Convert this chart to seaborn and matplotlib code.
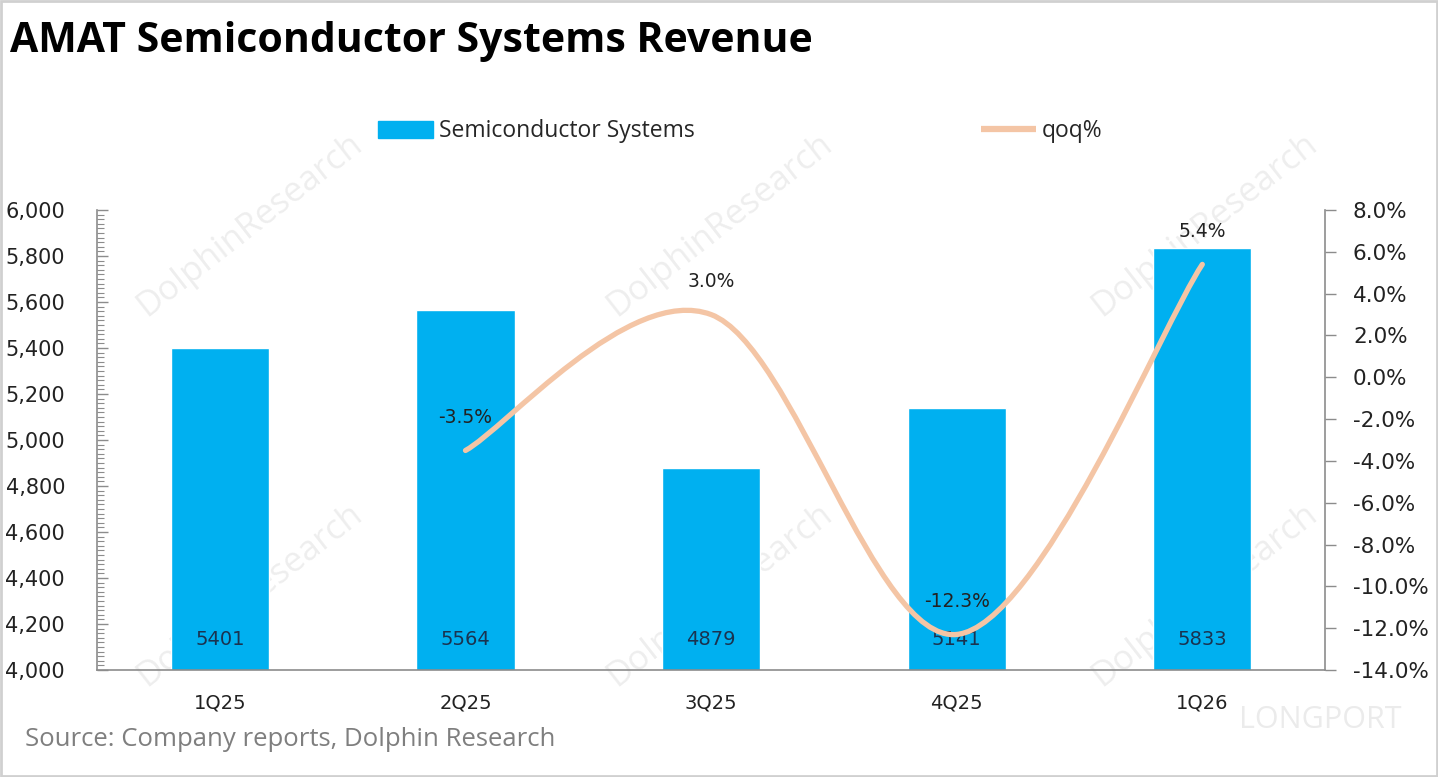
import numpy as np
import pandas as pd
import seaborn as sns
import matplotlib.pyplot as plt
from matplotlib.path import Path
from matplotlib.patches import PathPatch, Patch, Rectangle
from matplotlib.lines import Line2D
from matplotlib.ticker import FuncFormatter, MultipleLocator

quarters = ["1Q25", "2Q25", "3Q25", "4Q25", "1Q26"]
revenue = [5401, 5564, 4879, 5141, 5833]
qoq_quarters = ["2Q25", "3Q25", "4Q25", "1Q26"]
qoq = [-3.5, 3.0, -12.3, 5.4]

BAR = "#00B0F0"
LINE = "#F4C5A5"
GRAY = "#8C8C8C"

sns.set_style("white")
plt.rcParams["font.family"] = ["DejaVu Sans"]

fig = plt.figure(figsize=(14.38, 7.77), dpi=100)
ax = fig.add_axes([0.0675, 0.1377, 0.854, 0.592])

# watermarks, behind everything
for wx, wy in [(250, 225), (720, 225), (1205, 225), (250, 595), (720, 595), (1205, 595)]:
    fig.text(wx / 1438, 1 - wy / 777, "DolphinResearch", rotation=38, fontsize=25,
             color="#000000", alpha=0.07, ha="center", va="center", family="Open Sans", zorder=-1)
fig.text(1320 / 1438, 1 - 720 / 777, "LONGPORT", fontsize=22, color="#000000", alpha=0.08,
         ha="center", va="center", family="Open Sans", zorder=-1)

df = pd.DataFrame({"quarter": quarters, "revenue": revenue})
sns.barplot(data=df, x="quarter", y="revenue", color=BAR, saturation=1, width=0.4, ax=ax, zorder=2)
ax.patch.set_alpha(0)
ax.set_ylim(4000, 6000)
ax.set_xlim(-0.5, 4.5)
ax.yaxis.set_major_locator(MultipleLocator(200))
ax.yaxis.set_minor_locator(MultipleLocator(20))
ax.yaxis.set_major_formatter(FuncFormatter(lambda v, p: f"{v:,.0f}"))
ax.set_xlabel("")
ax.set_ylabel("")
ax.tick_params(axis="y", which="major", direction="in", length=8, width=1, color=GRAY,
               pad=23, labelsize=15, labelcolor="#222222", left=True)
ax.tick_params(axis="y", which="minor", direction="in", length=5, width=0.8, color=GRAY, left=True)
ax.tick_params(axis="x", length=0, pad=17, labelsize=14, labelcolor="#222222")
for s in ["top", "right"]:
    ax.spines[s].set_visible(False)
for s in ["left", "bottom"]:
    ax.spines[s].set_color(GRAY)
    ax.spines[s].set_linewidth(1.2)

for i, v in enumerate(revenue):
    ax.annotate(str(v), xy=(i, 4000), xytext=(0, 22), textcoords="offset points",
                ha="center", va="center", fontsize=14, color="#1A3350", zorder=5)

ax2 = ax.twinx()
ax2.set_ylim(-14, 8)
ax2.yaxis.set_major_locator(MultipleLocator(2))
ax2.yaxis.set_major_formatter(FuncFormatter(lambda v, p: f"{v:.1f}%"))
ax2.tick_params(axis="y", direction="out", length=8, width=1, color=GRAY, pad=12,
                labelsize=15.5, labelcolor="#222222", right=True)
for s in ["top", "left", "bottom"]:
    ax2.spines[s].set_visible(False)
ax2.spines["right"].set_color(GRAY)
ax2.spines["right"].set_linewidth(1.2)

# smoothed line (Bezier through the points, like Excel's smoothed line)
xs = [quarters.index(q) for q in qoq_quarters]
pts = list(zip(xs, qoq))
verts = [pts[0]]
codes = [Path.MOVETO]
n = len(pts)
for k in range(n - 1):
    p0 = pts[max(k - 1, 0)]
    p1 = pts[k]
    p2 = pts[k + 1]
    p3 = pts[min(k + 2, n - 1)]
    c1 = (p1[0] + (p2[0] - p0[0]) / 6, p1[1] + (p2[1] - p0[1]) / 6)
    c2 = (p2[0] - (p3[0] - p1[0]) / 6, p2[1] - (p3[1] - p1[1]) / 6)
    verts += [c1, c2, p2]
    codes += [Path.CURVE4] * 3
ax2.add_patch(PathPatch(Path(verts, codes), facecolor="none", edgecolor=LINE,
                        lw=3.8, capstyle="round", zorder=4))

for x, v in zip(xs, qoq):
    ax2.annotate(f"{v:.1f}%", xy=(x, v), xytext=(0, 24), textcoords="offset points",
                 ha="center", va="center", fontsize=13.5, color="#222222", zorder=6)

handles = [Patch(facecolor=BAR, edgecolor=BAR), Line2D([], [], color=LINE, lw=4.5, solid_capstyle="butt")]
fig.legend(handles, ["Semiconductor Systems", "qoq%"], ncol=2, loc="center",
           bbox_to_anchor=(0.515, 0.831), frameon=False,
           handlelength=2.4, handleheight=0.75, handletextpad=0.25, columnspacing=12.5,
           prop={"family": "Open Sans", "size": 16.5})

fig.text(10 / 1438, 1 - 42 / 777, "AMAT Semiconductor Systems Revenue", fontsize=29.5,
         fontweight="bold", family="Open Sans", ha="left", va="center", color="#000000")
fig.text(25 / 1438, 1 - 740 / 777, "Source: Company reports, Dolphin Research", fontsize=18.5,
         family="Open Sans", ha="left", va="center", color="#7F7F7F")

fig.patches.append(Rectangle((0.001, 0.001), 0.998, 0.998, transform=fig.transFigure,
                             fill=False, edgecolor="#D0D0D0", lw=2))

fig.savefig("out.png", dpi=100)
